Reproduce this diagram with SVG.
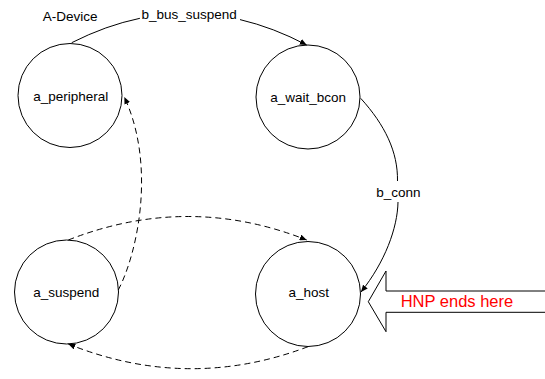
<svg xmlns="http://www.w3.org/2000/svg" width="545" height="379" viewBox="0 0 545 379">
<style>
.state{fill:#fff;stroke:#000;stroke-width:1}
.lbl{font-family:"Liberation Sans",Arial,sans-serif;font-size:13.5px;fill:#000}
.mid{text-anchor:middle}
.edge{fill:none;stroke:#000;stroke-width:1}
.dash{stroke-dasharray:6,4}
</style>
<defs>
<marker id="ah" markerUnits="userSpaceOnUse" markerWidth="7" markerHeight="6" refX="7" refY="3" orient="auto">
<path d="M0,0 L7,3 L0,6 z" fill="#000"/>
</marker>
</defs>
<rect width="545" height="379" fill="#fff"/>
<text class="lbl" x="42.7" y="20.7">A-Device</text>
<g id="a_peripheral">
<circle class="state" cx="70" cy="95.5" r="52"/>
<text class="lbl mid" x="70.8" y="101">a_peripheral</text>
</g>
<g id="a_wait_bcon">
<circle class="state" cx="308" cy="97" r="52"/>
<text class="lbl mid" x="308.2" y="101.7">a_wait_bcon</text>
</g>
<g id="a_suspend">
<circle class="state" cx="66.5" cy="292" r="52"/>
<text class="lbl mid" x="66.3" y="296.7">a_suspend</text>
</g>
<g id="a_host">
<circle class="state" cx="308" cy="294" r="52.5"/>
<text class="lbl mid" x="308.8" y="297.3">a_host</text>
</g>
<g id="connectors">
<path class="edge" d="M71.7,42.7 Q105.8,25.4 139.9,18.3"/>
<path class="edge" d="M240,19.6 Q273.3,27.4 306.7,45" marker-end="url(#ah)"/>
<text class="lbl mid" x="189.2" y="18.5">b_bus_suspend</text>
<path class="edge" d="M360.7,98.3 C385,125 398,152 397.5,181"/>
<path class="edge" d="M398,202 C397.5,228 385,262 361,292" marker-end="url(#ah)"/>
<text class="lbl mid" x="398.4" y="196.5">b_conn</text>
<path class="edge dash" d="M118.3,290 C138,252 156,165 124.3,97" marker-end="url(#ah)"/>
<path class="edge dash" d="M68.3,240 Q188,193 306.7,240" marker-end="url(#ah)"/>
<path class="edge dash" d="M308,346.7 Q188,392 68.3,344" marker-end="url(#ah)"/>
</g>
<g id="hnp">
<polygon points="368.3,301.7 386,271 386,291 560,291 560,312.3 386,312.3 386,331.7" fill="#fff" stroke="#000" stroke-width="1"/>
<text x="400.7" y="306.7" font-family="Liberation Sans, Arial, sans-serif" font-size="16.5" fill="#ff0000">HNP ends here</text>
</g>
</svg>
